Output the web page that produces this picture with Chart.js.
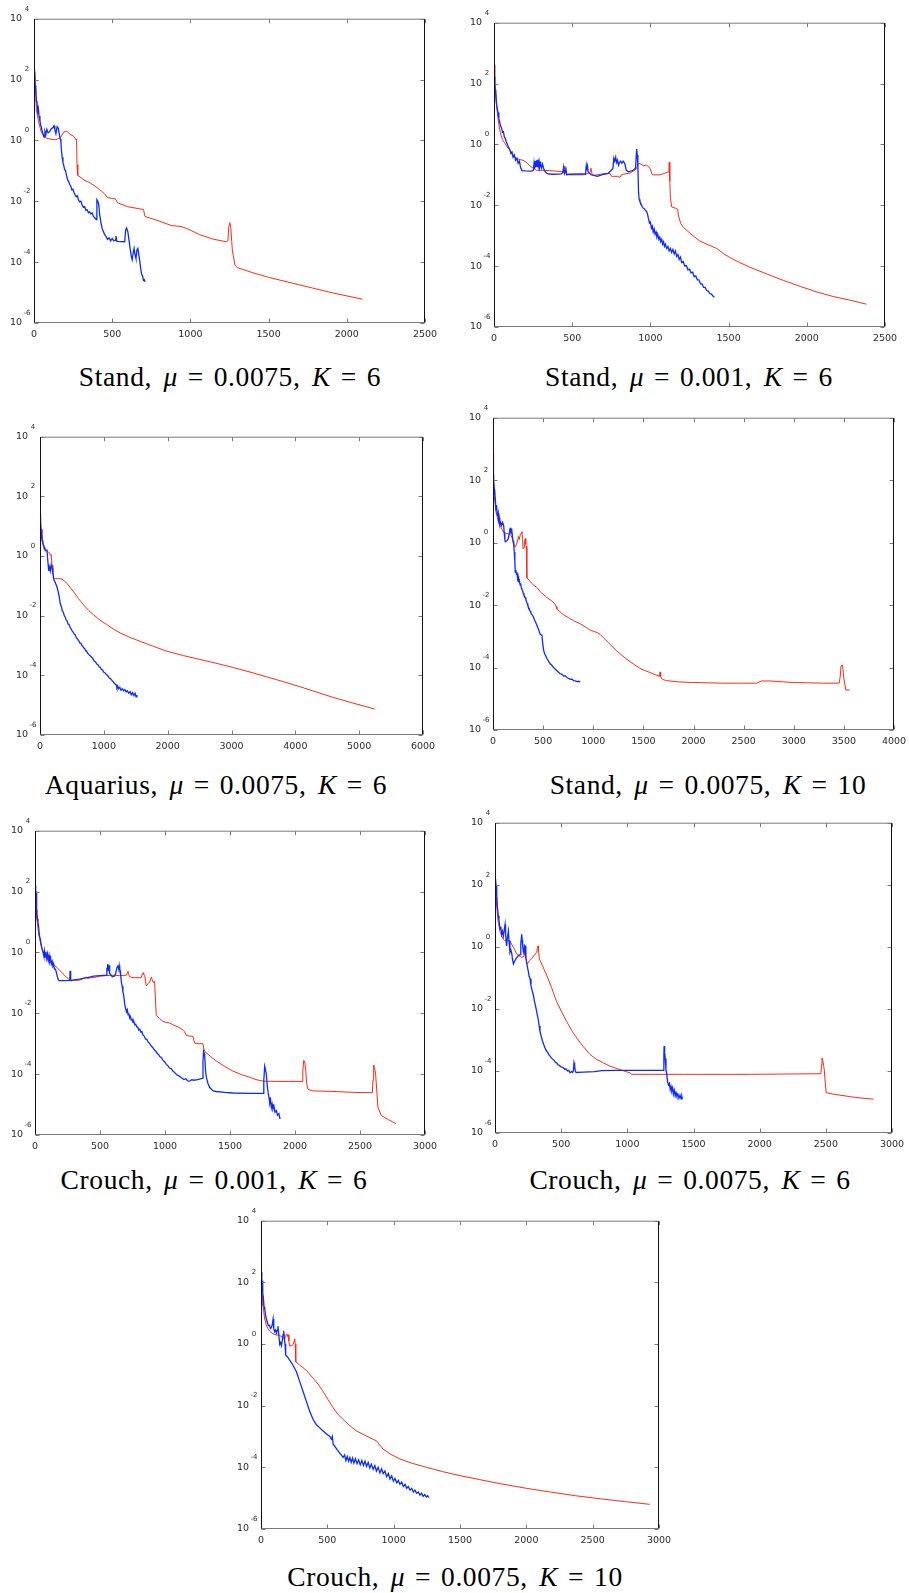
<!DOCTYPE html>
<html>
<head>
<meta charset="utf-8">
<script src="https://cdn.jsdelivr.net/npm/chart.js@4.4.1/dist/chart.umd.min.js"></script>
<style>
  html, body { margin: 0; padding: 0; background: #fff; }
  body { width: 909px; height: 1593px; position: relative; overflow: hidden; }
  canvas { position: absolute; }
  .cap { position: absolute; font-family: "Liberation Serif", serif; font-size: 27.5px; line-height: 1;
         color: #000; white-space: nowrap; transform: translate(-50%, -50%); letter-spacing: 0.6px; word-spacing: 4px; }
  .cap i { font-style: italic; }
  .cap .eq { margin: 0 0.36em; }
</style>
</head>
<body>
<script>
'use strict';

/* ---- axis ticks ---- */
const yExponents = [-6, -4, -2, 0, 2, 4];
const xTicks2500 = [0, 500, 1000, 1500, 2000, 2500];
const xTicks6000 = [0, 1000, 2000, 3000, 4000, 5000, 6000];
const xTicks4000 = [0, 500, 1000, 1500, 2000, 2500, 3000, 3500, 4000];
const xTicks3000 = [0, 500, 1000, 1500, 2000, 2500, 3000];

/* ---- series: [iteration, log10(value)] ---- */
// Stand, mu = 0.0075, K = 6
const p1Red = [[0,2.65],[8,2.0],[15,1.0],[30,0.6],[45,0.3],[65,0.1],[100,0.05],[140,0.02],[170,0.1],[190,0.28],[210,0.3],[230,0.2],[250,0.15],[262,0.08],[268,0.02],[272,0.05],[275,-0.8],[280,-1.15],[320,-1.3],[360,-1.4],[390,-1.5],[420,-1.62],[450,-1.75],[470,-1.88],[520,-1.92],[535,-2.05],[600,-2.18],[700,-2.27],[710,-2.5],[800,-2.65],[880,-2.8],[940,-2.83],[980,-2.9],[1060,-3.1],[1150,-3.25],[1230,-3.33],[1240,-3.3],[1245,-2.85],[1252,-2.7],[1258,-2.85],[1268,-3.6],[1285,-4.1],[1300,-4.18],[1400,-4.35],[1500,-4.5],[1700,-4.75],[1900,-5.0],[2100,-5.22]];
const p1Blue = [[4,2.26],[8,1.6],[11,1.8],[15,1.3],[19,1.25],[24,0.95],[28,1.05],[32,0.8],[38,0.65],[42,0.5],[47,0.45],[52,0.3],[58,0.22],[64,0.12],[70,0.3],[76,0.2],[82,0.36],[90,0.25],[100,0.28],[110,0.38],[121,0.42],[128,0.48],[133,0.35],[140,0.22],[148,0.45],[155,0.4],[162,0.2],[168,0.05],[172,-0.05],[175,-0.3],[180,-0.55],[185,-0.72],[190,-0.82],[196,-0.96],[202,-1.0],[208,-1.15],[215,-1.3],[222,-1.35],[228,-1.45],[235,-1.5],[242,-1.62],[249,-1.6],[256,-1.72],[263,-1.78],[270,-1.85],[277,-1.82],[284,-1.95],[292,-2.02],[300,-2.0],[308,-2.12],[316,-2.2],[324,-2.18],[332,-2.3],[340,-2.28],[348,-2.38],[356,-2.35],[364,-2.42],[372,-2.38],[380,-2.5],[390,-2.55],[398,-2.6],[402,-1.95],[408,-2.0],[414,-2.1],[420,-2.45],[428,-2.7],[436,-2.9],[444,-3.0],[452,-3.1],[460,-3.15],[470,-3.25],[480,-3.2],[490,-3.3],[500,-3.22],[510,-3.3],[518,-3.28],[524,-3.14],[530,-3.32],[580,-3.33],[586,-2.95],[592,-2.88],[600,-3.0],[608,-3.3],[616,-3.6],[622,-3.8],[628,-3.92],[634,-3.7],[640,-3.55],[646,-3.75],[652,-3.88],[658,-3.6],[664,-3.55],[670,-3.75],[676,-3.95],[682,-4.2],[688,-4.4],[694,-4.45],[700,-4.6],[706,-4.58],[710,-4.65]];

// Stand, mu = 0.001, K = 6
const p2Red = [[0,2.62],[5,2.1],[9,1.69],[15,1.35],[22,1.0],[30,0.7],[36,0.5],[45,0.3],[55,0.15],[68,0.05],[80,-0.05],[95,-0.15],[111,-0.25],[125,-0.38],[143,-0.47],[165,-0.5],[186,-0.52],[210,-0.6],[228,-0.7],[250,-0.78],[271,-0.85],[300,-0.85],[356,-0.86],[400,-0.88],[442,-0.9],[448,-0.72],[453,-0.82],[458,-0.95],[463,-0.98],[485,-1.0],[570,-1.0],[600,-0.95],[613,-0.93],[620,-0.78],[626,-0.95],[634,-1.02],[680,-0.98],[741,-0.95],[752,-1.05],[762,-1.05],[790,-1.05],[805,-1.08],[815,-1.0],[826,-0.98],[869,-0.94],[900,-0.85],[912,-0.8],[920,-0.65],[933,-0.63],[955,-0.7],[976,-0.68],[997,-0.78],[1010,-0.98],[1020,-1.0],[1061,-1.0],[1090,-0.95],[1118,-0.9],[1121,-0.58],[1124,-1.2],[1128,-1.77],[1136,-2.05],[1160,-2.1],[1174,-2.13],[1180,-2.35],[1185,-2.45],[1195,-2.6],[1210,-2.72],[1260,-2.95],[1317,-3.18],[1370,-3.3],[1424,-3.42],[1470,-3.6],[1509,-3.72],[1570,-3.88],[1638,-4.04],[1750,-4.27],[1851,-4.47],[1960,-4.67],[2065,-4.85],[2170,-5.0],[2278,-5.12],[2381,-5.25]];
const p2Blue = [[4,2.24],[8,1.7],[11,1.8],[15,1.4],[20,1.2],[26,1.05],[31,0.85],[36,0.75],[42,0.6],[48,0.55],[54,0.4],[60,0.42],[66,0.25],[72,0.2],[79,0.08],[86,0.0],[93,-0.1],[100,-0.15],[108,-0.3],[115,-0.25],[122,-0.42],[130,-0.35],[138,-0.52],[146,-0.45],[154,-0.62],[162,-0.55],[170,-0.75],[178,-0.86],[200,-0.87],[240,-0.88],[252,-0.85],[256,-0.62],[260,-0.8],[264,-0.55],[268,-0.75],[272,-0.52],[276,-0.72],[280,-0.5],[284,-0.7],[288,-0.56],[292,-0.75],[298,-0.62],[304,-0.78],[310,-0.65],[318,-0.8],[330,-0.92],[345,-0.97],[380,-0.98],[430,-0.97],[440,-0.92],[445,-0.75],[450,-0.95],[460,-0.8],[465,-1.0],[480,-0.98],[560,-0.97],[585,-0.98],[590,-0.7],[594,-0.85],[598,-0.72],[602,-0.9],[610,-0.95],[624,-1.0],[640,-1.02],[660,-1.05],[680,-1.02],[700,-0.98],[730,-0.95],[760,-0.8],[766,-0.45],[772,-0.55],[778,-0.42],[784,-0.6],[790,-0.52],[796,-0.68],[802,-0.6],[810,-0.55],[818,-0.62],[826,-0.55],[836,-0.62],[846,-0.85],[860,-0.9],[890,-0.85],[905,-0.78],[912,-0.15],[916,-0.35],[920,-0.7],[924,-1.55],[928,-1.8],[933,-1.88],[940,-1.95],[948,-2.05],[955,-2.1],[962,-2.12],[970,-2.18],[976,-2.2],[982,-2.3],[988,-2.45],[994,-2.58],[1000,-2.55],[1006,-2.75],[1012,-2.68],[1018,-2.88],[1024,-2.78],[1030,-2.95],[1036,-2.88],[1042,-3.05],[1048,-2.98],[1054,-3.12],[1060,-3.05],[1066,-3.2],[1072,-3.12],[1078,-3.28],[1084,-3.2],[1090,-3.35],[1096,-3.28],[1104,-3.42],[1112,-3.35],[1120,-3.5],[1128,-3.42],[1136,-3.55],[1144,-3.45],[1152,-3.6],[1160,-3.5],[1168,-3.68],[1176,-3.62],[1184,-3.78],[1192,-3.7],[1200,-3.88],[1210,-3.85],[1220,-4.0],[1230,-3.98],[1240,-4.12],[1250,-4.1],[1260,-4.22],[1270,-4.2],[1280,-4.35],[1290,-4.32],[1300,-4.45],[1310,-4.45],[1320,-4.58],[1330,-4.58],[1340,-4.7],[1350,-4.7],[1360,-4.8],[1370,-4.82],[1380,-4.9],[1390,-4.92],[1400,-4.98],[1409,-5.02]];

// Aquarius, mu = 0.0075, K = 6
const p3Red = [[0,2.95],[5,2.0],[10,1.3],[16,0.9],[31,0.57],[60,0.35],[83,0.2],[110,0.15],[136,0.13],[150,0.1],[162,0.02],[175,0.05],[188,-0.3],[200,-0.4],[214,-0.76],[266,-0.76],[300,-0.76],[344,-0.77],[380,-0.83],[422,-0.92],[470,-1.05],[527,-1.2],[600,-1.42],[683,-1.64],[760,-1.82],[839,-1.97],[940,-2.15],[1048,-2.3],[1150,-2.45],[1256,-2.58],[1400,-2.72],[1569,-2.86],[1780,-3.03],[1986,-3.19],[2250,-3.34],[2507,-3.47],[2770,-3.6],[3029,-3.74],[3290,-3.89],[3550,-4.05],[3810,-4.21],[4071,-4.38],[4330,-4.56],[4593,-4.74],[4920,-4.94],[5244,-5.13]];
const p3Blue = [[3,1.4],[6,0.9],[10,1.1],[16,0.85],[22,0.6],[28,0.7],[34,0.5],[40,0.55],[48,0.38],[57,0.35],[65,0.25],[72,0.3],[83,0.18],[95,0.2],[109,0.22],[120,-0.1],[128,-0.3],[136,-0.5],[145,-0.35],[155,-0.42],[162,-0.5],[175,-0.3],[188,-0.4],[200,-0.55],[214,-0.78],[230,-0.85],[250,-0.95],[266,-1.04],[280,-1.15],[300,-1.35],[318,-1.6],[335,-1.7],[350,-1.85],[365,-1.88],[380,-2.0],[396,-2.05],[410,-2.15],[425,-2.18],[440,-2.28],[455,-2.3],[474,-2.4],[490,-2.45],[505,-2.52],[520,-2.55],[535,-2.62],[550,-2.64],[565,-2.72],[579,-2.72],[595,-2.8],[610,-2.85],[625,-2.92],[640,-2.92],[655,-3.0],[670,-3.02],[683,-3.08],[700,-3.1],[715,-3.18],[730,-3.18],[745,-3.26],[760,-3.28],[775,-3.33],[790,-3.35],[813,-3.4],[830,-3.45],[850,-3.52],[870,-3.55],[890,-3.62],[910,-3.65],[930,-3.72],[944,-3.73],[960,-3.8],[980,-3.82],[1000,-3.9],[1020,-3.92],[1040,-3.98],[1060,-4.0],[1080,-4.08],[1100,-4.1],[1120,-4.15],[1140,-4.2],[1160,-4.25],[1180,-4.3],[1195,-4.32],[1204,-4.4],[1215,-4.35],[1230,-4.45],[1250,-4.4],[1270,-4.5],[1290,-4.45],[1310,-4.52],[1330,-4.48],[1350,-4.56],[1370,-4.52],[1390,-4.6],[1413,-4.55],[1430,-4.65],[1450,-4.58],[1470,-4.68],[1490,-4.6],[1505,-4.72],[1517,-4.66]];

// Stand, mu = 0.0075, K = 10
const p4Red = [[0,2.86],[4,2.3],[7,2.0],[12,1.6],[17,1.38],[28,1.0],[40,0.85],[55,0.65],[73,0.54],[90,0.42],[106,0.33],[130,0.3],[156,0.28],[175,0.25],[189,0.17],[200,0.05],[210,-0.05],[222,-0.15],[235,-0.05],[248,0.1],[255,0.2],[262,0.1],[272,0.25],[280,0.3],[289,0.35],[295,0.1],[300,-0.2],[310,-0.15],[316,0.05],[322,0.13],[327,-0.05],[332,-0.12],[336,-0.6],[339,-1.13],[360,-1.2],[400,-1.35],[438,-1.44],[480,-1.6],[538,-1.76],[580,-1.85],[621,-1.97],[630,-2.05],[637,-2.13],[700,-2.3],[750,-2.4],[803,-2.5],[870,-2.6],[936,-2.73],[970,-2.8],[1003,-2.84],[1040,-2.88],[1069,-2.94],[1150,-3.2],[1235,-3.47],[1320,-3.7],[1401,-3.89],[1480,-4.05],[1567,-4.16],[1620,-4.23],[1660,-4.28],[1667,-4.14],[1672,-4.3],[1690,-4.38],[1733,-4.42],[1850,-4.46],[1999,-4.48],[2150,-4.49],[2297,-4.5],[2500,-4.5],[2629,-4.5],[2679,-4.43],[2762,-4.43],[2900,-4.46],[2995,-4.48],[3150,-4.49],[3294,-4.5],[3453,-4.5],[3463,-4.3],[3472,-3.95],[3486,-3.92],[3498,-4.3],[3519,-4.72],[3559,-4.72]];
const p4Blue = [[0,2.17],[4,1.9],[8,2.0],[13,1.7],[18,1.5],[23,1.4],[30,1.05],[35,1.2],[40,0.98],[46,0.85],[52,0.95],[56,0.72],[62,0.8],[68,0.6],[73,0.67],[85,0.55],[95,0.65],[106,0.56],[112,0.3],[118,0.1],[123,0.03],[135,0.05],[150,0.1],[160,0.25],[170,0.45],[175,0.48],[180,0.3],[185,0.45],[189,0.42],[195,0.15],[200,0.05],[206,-0.05],[212,-0.3],[218,-0.6],[222,-0.94],[228,-0.88],[234,-1.02],[239,-0.95],[245,-1.15],[250,-1.08],[255,-1.23],[262,-1.2],[270,-1.35],[276,-1.3],[282,-1.45],[289,-1.5],[296,-1.55],[302,-1.62],[309,-1.68],[315,-1.72],[322,-1.76],[328,-1.82],[335,-1.9],[342,-1.95],[348,-2.02],[355,-2.08],[362,-2.12],[370,-2.2],[378,-2.25],[386,-2.3],[394,-2.32],[405,-2.4],[415,-2.48],[425,-2.55],[435,-2.62],[445,-2.71],[455,-2.78],[462,-2.85],[471,-2.94],[480,-2.95],[488,-2.98],[495,-3.2],[505,-3.45],[515,-3.55],[525,-3.62],[538,-3.71],[555,-3.8],[570,-3.88],[585,-3.92],[604,-4.0],[620,-4.05],[637,-4.1],[655,-4.15],[671,-4.2],[690,-4.22],[705,-4.28],[720,-4.26],[737,-4.32],[755,-4.35],[770,-4.38],[790,-4.37],[803,-4.42],[820,-4.43],[840,-4.45],[855,-4.44],[870,-4.46]];

// Crouch, mu = 0.001, K = 6
const p5Red = [[0,2.61],[3,2.3],[5,1.85],[10,1.4],[15,1.09],[25,0.7],[36,0.44],[48,0.2],[62,0.0],[80,-0.12],[100,-0.27],[125,-0.36],[151,-0.43],[170,-0.5],[190,-0.59],[215,-0.7],[241,-0.81],[260,-0.88],[279,-0.92],[310,-0.92],[344,-0.91],[370,-0.86],[395,-0.81],[408,-0.86],[420,-0.84],[460,-0.82],[497,-0.78],[550,-0.76],[600,-0.75],[650,-0.76],[703,-0.75],[712,-0.66],[715,-0.62],[720,-0.72],[728,-0.8],[754,-0.83],[818,-0.83],[826,-0.7],[831,-0.67],[836,-0.72],[844,-0.75],[850,-0.95],[856,-1.1],[870,-1.02],[882,-0.98],[890,-0.85],[895,-0.81],[900,-0.88],[908,-0.98],[915,-0.96],[920,-0.95],[926,-1.5],[933,-2.06],[960,-2.18],[985,-2.27],[1010,-2.3],[1036,-2.32],[1061,-2.38],[1100,-2.45],[1138,-2.54],[1150,-2.6],[1164,-2.73],[1190,-2.75],[1215,-2.76],[1222,-2.9],[1228,-2.98],[1260,-3.0],[1292,-3.0],[1298,-3.15],[1305,-3.25],[1350,-3.42],[1395,-3.57],[1460,-3.75],[1523,-3.9],[1590,-4.02],[1651,-4.1],[1700,-4.18],[1754,-4.23],[1850,-4.24],[1950,-4.24],[2054,-4.24],[2060,-3.9],[2067,-3.55],[2075,-3.6],[2082,-3.85],[2090,-4.3],[2100,-4.5],[2138,-4.55],[2300,-4.57],[2450,-4.6],[2595,-4.61],[2600,-4.2],[2605,-3.7],[2612,-3.78],[2620,-4.0],[2630,-4.6],[2638,-5.09],[2664,-5.36],[2720,-5.5],[2779,-5.63]];
const p5Blue = [[3,2.2],[5,1.9],[8,2.0],[10,1.63],[15,1.3],[19,1.1],[23,0.98],[28,0.85],[34,0.55],[41,0.44],[48,0.25],[55,0.1],[62,0.0],[68,-0.12],[72,0.05],[78,-0.15],[84,0.02],[90,-0.2],[96,-0.05],[102,-0.25],[108,-0.1],[113,-0.3],[120,-0.18],[126,-0.38],[132,-0.3],[138,-0.45],[144,-0.4],[150,-0.55],[157,-0.55],[164,-0.65],[172,-0.8],[180,-0.9],[185,-0.93],[220,-0.93],[267,-0.92],[270,-0.6],[273,-0.7],[276,-0.9],[279,-0.93],[300,-0.9],[340,-0.88],[395,-0.84],[450,-0.78],[500,-0.76],[549,-0.75],[553,-0.5],[556,-0.6],[559,-0.38],[562,-0.45],[566,-0.6],[570,-0.42],[574,-0.7],[580,-0.72],[595,-0.8],[610,-0.78],[620,-0.7],[630,-0.5],[636,-0.45],[640,-0.48],[644,-0.55],[648,-0.43],[652,-0.55],[656,-0.6],[664,-0.97],[670,-1.1],[676,-1.3],[682,-1.4],[690,-1.7],[697,-1.85],[703,-1.95],[710,-1.88],[716,-2.05],[722,-2.0],[728,-2.15],[734,-2.1],[740,-2.22],[747,-2.2],[754,-2.3],[761,-2.28],[768,-2.38],[775,-2.36],[782,-2.45],[790,-2.45],[798,-2.55],[806,-2.52],[814,-2.62],[822,-2.6],[831,-2.72],[840,-2.75],[850,-2.85],[860,-2.85],[870,-2.95],[880,-2.98],[890,-3.05],[900,-3.1],[908,-3.14],[920,-3.22],[930,-3.25],[940,-3.32],[950,-3.35],[960,-3.42],[972,-3.45],[985,-3.55],[998,-3.6],[1010,-3.68],[1022,-3.72],[1035,-3.8],[1048,-3.82],[1061,-3.9],[1075,-3.95],[1090,-4.02],[1105,-4.05],[1126,-4.12],[1145,-4.18],[1160,-4.15],[1175,-4.22],[1190,-4.23],[1205,-4.18],[1220,-4.2],[1250,-4.18],[1287,-4.14],[1292,-3.6],[1297,-3.25],[1305,-3.35],[1312,-3.9],[1318,-4.1],[1330,-4.3],[1344,-4.44],[1370,-4.55],[1395,-4.57],[1460,-4.6],[1523,-4.62],[1640,-4.63],[1754,-4.63],[1760,-4.2],[1767,-3.74],[1773,-3.85],[1779,-4.0],[1786,-4.35],[1793,-4.6],[1800,-4.77],[1806,-4.95],[1812,-4.85],[1818,-5.1],[1824,-4.98],[1830,-5.15],[1838,-5.05],[1846,-5.25],[1856,-5.2],[1866,-5.35],[1876,-5.3],[1883,-5.45],[1890,-5.44]];

// Crouch, mu = 0.0075, K = 6
const p6Red = [[0,2.64],[3,2.3],[5,2.05],[9,1.6],[13,1.31],[19,1.0],[25,0.78],[38,0.5],[50,0.35],[63,0.25],[76,0.19],[95,0.2],[113,0.19],[126,0.08],[139,-0.02],[152,-0.12],[164,-0.23],[185,-0.3],[202,-0.34],[212,-0.32],[219,-0.28],[224,-0.1],[227,0.03],[230,-0.2],[234,-0.34],[240,-0.5],[245,-0.55],[260,-0.45],[277,-0.38],[295,-0.28],[315,-0.18],[320,-0.05],[325,0.03],[329,-0.15],[335,-0.39],[360,-0.62],[391,-0.92],[428,-1.32],[466,-1.77],[504,-2.1],[542,-2.41],[580,-2.7],[618,-2.94],[668,-3.22],[718,-3.47],[768,-3.63],[819,-3.74],[870,-3.85],[920,-3.92],[960,-3.98],[996,-4.03],[1020,-4.06],[1034,-4.11],[1200,-4.11],[1424,-4.11],[1700,-4.11],[1929,-4.11],[2200,-4.1],[2463,-4.09],[2467,-3.8],[2471,-3.58],[2478,-3.68],[2488,-3.95],[2496,-4.4],[2503,-4.7],[2559,-4.75],[2685,-4.83],[2780,-4.88],[2861,-4.91]];
const p6Blue = [[3,2.18],[5,1.9],[8,1.95],[13,1.63],[18,1.3],[25,1.0],[30,0.85],[38,0.57],[44,0.65],[50,0.4],[56,0.5],[63,0.35],[70,0.55],[76,0.72],[80,0.4],[85,0.15],[88,0.03],[94,0.3],[101,0.51],[106,0.2],[113,-0.18],[120,-0.1],[126,-0.2],[132,-0.4],[139,-0.55],[150,-0.45],[164,-0.35],[178,-0.28],[189,-0.25],[195,0.1],[202,0.4],[206,0.2],[209,0.03],[214,-0.15],[219,-0.2],[223,0.05],[227,0.03],[232,-0.3],[239,-0.5],[245,-0.65],[252,-0.8],[258,-0.95],[265,-1.03],[272,-1.25],[280,-1.4],[290,-1.56],[298,-1.75],[306,-1.9],[313,-2.05],[320,-2.2],[327,-2.35],[334,-2.55],[340,-2.73],[350,-2.9],[360,-3.05],[368,-3.15],[378,-3.26],[388,-3.35],[398,-3.4],[408,-3.48],[416,-3.52],[426,-3.58],[436,-3.62],[446,-3.66],[456,-3.72],[466,-3.74],[476,-3.8],[486,-3.82],[496,-3.86],[506,-3.88],[517,-3.9],[527,-3.95],[537,-3.93],[547,-4.0],[557,-3.98],[567,-4.06],[577,-4.02],[585,-4.05],[592,-4.0],[597,-3.74],[602,-3.85],[607,-4.0],[613,-4.05],[668,-4.04],[750,-4.02],[807,-3.99],[920,-3.98],[1100,-3.98],[1273,-3.98],[1276,-3.5],[1278,-3.2],[1282,-3.4],[1286,-3.6],[1292,-3.95],[1298,-4.11],[1304,-4.35],[1311,-4.45],[1318,-4.4],[1324,-4.6],[1330,-4.5],[1336,-4.64],[1342,-4.55],[1348,-4.75],[1355,-4.62],[1362,-4.8],[1368,-4.7],[1374,-4.8],[1382,-4.75],[1390,-4.88],[1398,-4.78],[1406,-4.9],[1412,-4.82],[1417,-4.9]];

// Crouch, mu = 0.0075, K = 10
const p7Red = [[0,2.84],[3,2.4],[5,1.98],[10,1.55],[15,1.24],[22,1.0],[28,0.81],[40,0.62],[53,0.49],[70,0.4],[91,0.33],[115,0.3],[141,0.28],[160,0.22],[179,0.17],[186,0.25],[191,0.33],[196,0.3],[200,0.25],[204,0.3],[210,0.1],[216,-0.07],[230,-0.05],[242,-0.02],[250,0.1],[254,0.17],[258,0.0],[262,-0.58],[292,-0.68],[340,-0.85],[393,-1.11],[430,-1.3],[468,-1.54],[505,-1.8],[544,-2.07],[580,-2.28],[619,-2.45],[670,-2.65],[720,-2.82],[770,-2.93],[821,-3.04],[850,-3.1],[871,-3.14],[895,-3.28],[921,-3.41],[980,-3.58],[1047,-3.73],[1140,-3.87],[1248,-4.0],[1370,-4.14],[1500,-4.27],[1650,-4.4],[1802,-4.53],[2000,-4.68],[2180,-4.8],[2370,-4.92],[2557,-5.02],[2740,-5.11],[2930,-5.2]];
const p7Blue = [[3,2.33],[6,1.9],[9,2.05],[13,1.67],[18,1.5],[23,1.2],[28,1.13],[34,0.95],[40,0.81],[48,0.7],[56,0.6],[65,0.6],[72,0.5],[80,0.55],[86,0.65],[91,0.81],[96,0.5],[103,0.4],[110,0.45],[116,0.35],[122,0.45],[128,0.58],[134,0.3],[141,-0.01],[148,0.05],[154,-0.05],[160,0.1],[166,0.3],[171,0.43],[176,0.2],[181,0.0],[186,-0.36],[200,-0.42],[216,-0.52],[240,-0.68],[267,-0.9],[292,-1.22],[317,-1.54],[342,-1.86],[367,-2.18],[393,-2.45],[418,-2.62],[443,-2.72],[468,-2.82],[494,-2.92],[519,-3.0],[531,-3.09],[538,-3.0],[544,-3.25],[570,-3.4],[595,-3.55],[619,-3.68],[630,-3.6],[640,-3.78],[650,-3.65],[660,-3.8],[670,-3.68],[680,-3.84],[690,-3.7],[700,-3.86],[712,-3.72],[724,-3.88],[736,-3.76],[748,-3.92],[760,-3.78],[772,-3.94],[784,-3.8],[795,-3.97],[808,-3.84],[820,-4.02],[832,-3.9],[845,-4.06],[858,-3.94],[870,-4.12],[883,-4.0],[896,-4.18],[909,-4.05],[921,-4.2],[934,-4.12],[947,-4.3],[960,-4.2],[972,-4.38],[985,-4.28],[998,-4.45],[1010,-4.36],[1023,-4.5],[1035,-4.42],[1047,-4.55],[1060,-4.48],[1073,-4.62],[1086,-4.55],[1098,-4.68],[1110,-4.62],[1123,-4.74],[1136,-4.68],[1148,-4.8],[1160,-4.74],[1173,-4.84],[1186,-4.8],[1198,-4.9],[1210,-4.84],[1222,-4.94],[1234,-4.88],[1246,-4.96],[1256,-4.92],[1266,-4.98]];

/* ---- page layout: plot box [left, top, right, bottom] and caption centre ---- */
const panels = [
  { box: [34, 15, 425, 323],   xTicks: xTicks2500, red: p1Red, blue: p1Blue, cap: ['Stand', '0.0075', '6'],    capAt: [230, 377] },
  { box: [494, 19, 885, 327],  xTicks: xTicks2500, red: p2Red, blue: p2Blue, cap: ['Stand', '0.001', '6'],     capAt: [689, 377] },
  { box: [40, 433, 423, 735],  xTicks: xTicks6000, red: p3Red, blue: p3Blue, cap: ['Aquarius', '0.0075', '6'], capAt: [216, 785] },
  { box: [493, 414, 894, 730], xTicks: xTicks4000, red: p4Red, blue: p4Blue, cap: ['Stand', '0.0075', '10'],   capAt: [708, 785] },
  { box: [35, 827, 425, 1135], xTicks: xTicks3000, red: p5Red, blue: p5Blue, cap: ['Crouch', '0.001', '6'],    capAt: [214, 1180] },
  { box: [495, 819, 892, 1133],xTicks: xTicks3000, red: p6Red, blue: p6Blue, cap: ['Crouch', '0.0075', '6'],   capAt: [690, 1180] },
  { box: [261, 1217, 659, 1529],xTicks: xTicks3000, red: p7Red, blue: p7Blue, cap: ['Crouch', '0.0075', '10'], capAt: [455, 1577] }
];

const PADL = 36, PADT = 14, PADR = 20, PADB = 26;
const TICK = 4;
const SIDE_COLOR = '#111';   // left and right frame
const FLAT_COLOR = '#7a7a7a'; // top and bottom frame, tick marks
const TEXT_COLOR = '#2a2a2a';

/* frame, inward ticks on all four sides, exponents of the y labels */
const framePlugin = {
  id: 'frame',
  afterDraw(chart) {
    const { ctx, chartArea: a, scales: { x, y } } = chart;
    const L = a.left + 0.5, R = a.right - 0.5, T = a.top + 0.5, B = a.bottom - 0.5;
    ctx.save();
    ctx.lineWidth = 1;
    ctx.strokeStyle = FLAT_COLOR;
    ctx.beginPath();
    ctx.moveTo(L, T); ctx.lineTo(R, T);
    ctx.moveTo(L, B); ctx.lineTo(R, B);
    x.ticks.forEach(t => {
      const px = Math.round(x.getPixelForValue(t.value)) + 0.5;
      ctx.moveTo(px, B); ctx.lineTo(px, B - TICK);
      ctx.moveTo(px, T); ctx.lineTo(px, T + TICK);
    });
    y.ticks.forEach(t => {
      const py = Math.round(y.getPixelForValue(t.value)) + 0.5;
      ctx.moveTo(L, py); ctx.lineTo(L + TICK, py);
      ctx.moveTo(R, py); ctx.lineTo(R - TICK, py);
    });
    ctx.stroke();
    ctx.strokeStyle = SIDE_COLOR;
    ctx.beginPath();
    ctx.moveTo(L, T); ctx.lineTo(L, B);
    ctx.moveTo(R, T); ctx.lineTo(R, B);
    ctx.stroke();
    // exponent of each "10" label
    ctx.fillStyle = TEXT_COLOR;
    ctx.font = '7px "DejaVu Sans"';
    ctx.textAlign = 'center';
    ctx.textBaseline = 'middle';
    y.ticks.forEach(t => {
      const py = y.getPixelForValue(t.value);
      ctx.fillText(String(Math.round(Math.log10(t.value))), a.left - 7, py - 10);
    });
    ctx.restore();
  }
};

function toPoints(series) {
  return series.map(([it, e]) => ({ x: it, y: Math.pow(10, e) }));
}

function drawPanel(p) {
  const [l, t, r, b] = p.box;
  const w = (r - l) + PADL + PADR;
  const h = (b - t) + PADT + PADB;
  const cv = document.createElement('canvas');
  cv.width = w; cv.height = h;
  cv.style.left = (l - PADL) + 'px';
  cv.style.top = (t - PADT) + 'px';
  cv.style.width = w + 'px';
  cv.style.height = h + 'px';
  document.body.appendChild(cv);

  const tickFont = { family: '"DejaVu Sans", sans-serif', size: 9.5 };

  new Chart(cv, {
    type: 'line',
    data: {
      datasets: [
        { data: toPoints(p.blue), borderColor: '#0c2cff', borderWidth: 1.3, pointRadius: 0, tension: 0, order: 0 },
        { data: toPoints(p.red), borderColor: '#ff2a14', borderWidth: 1, pointRadius: 0, tension: 0, order: 1 }
      ]
    },
    options: {
      responsive: false,
      animation: false,
      devicePixelRatio: 1,
      layout: { padding: { left: 0, top: PADT, right: PADR, bottom: 0 } },
      plugins: { legend: { display: false }, tooltip: { enabled: false } },
      scales: {
        x: {
          type: 'linear',
          min: p.xTicks[0],
          max: p.xTicks[p.xTicks.length - 1],
          afterBuildTicks: ax => { ax.ticks = p.xTicks.map(v => ({ value: v })); },
          afterFit: ax => { ax.height = PADB; },
          grid: { display: false, drawTicks: false },
          border: { display: false },
          ticks: { font: tickFont, color: TEXT_COLOR, padding: 6, maxRotation: 0, autoSkip: false,
                   callback: v => String(v) }
        },
        y: {
          type: 'logarithmic',
          min: Math.pow(10, yExponents[0]),
          max: Math.pow(10, yExponents[yExponents.length - 1]),
          afterBuildTicks: ax => { ax.ticks = yExponents.map(e => ({ value: Math.pow(10, e) })); },
          afterFit: ax => { ax.width = PADL; },
          grid: { display: false, drawTicks: false },
          border: { display: false },
          ticks: { font: tickFont, color: TEXT_COLOR, padding: 12, autoSkip: false,
                   callback: () => '10' }
        }
      }
    },
    plugins: [framePlugin]
  });

  const cap = document.createElement('div');
  cap.className = 'cap';
  cap.style.left = p.capAt[0] + 'px';
  cap.style.top = p.capAt[1] + 'px';
  cap.innerHTML = p.cap[0] + ', <i>μ</i><span class="eq">=</span>' + p.cap[1] +
                  ', <i>K</i><span class="eq">=</span>' + p.cap[2];
  document.body.appendChild(cap);
}

panels.forEach(drawPanel);
</script>
</body>
</html>
